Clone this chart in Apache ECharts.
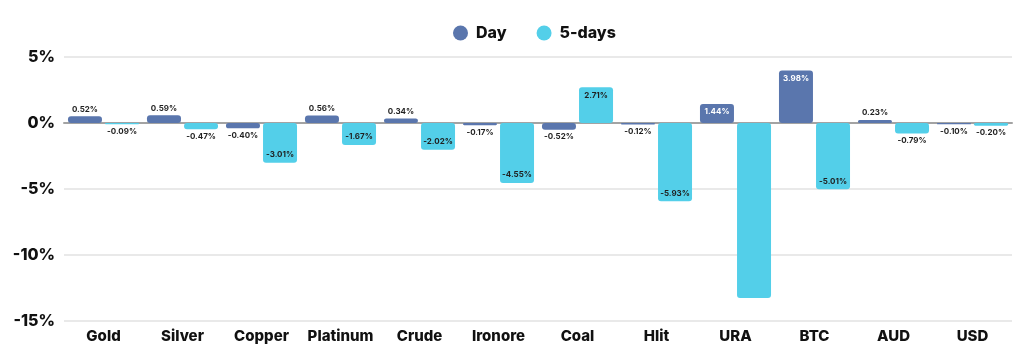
<!DOCTYPE html>
<html>
<head>
<meta charset="utf-8">
<script src="https://cdn.jsdelivr.net/npm/echarts@6/dist/echarts.min.js"></script>
<style>html,body{margin:0;padding:0;background:#fff}#c{width:1024px;height:356px}</style>
</head>
<body>
<div id="c"></div>
<script>
const categories = ['Gold','Silver','Copper','Platinum','Crude','Ironore','Coal','Hlit','URA','BTC','AUD','USD'];
const dayValues = [0.52, 0.59, -0.40, 0.56, 0.34, -0.17, -0.52, -0.12, 1.44, 3.98, 0.23, -0.10];
const fiveDayValues = [-0.09, -0.47, -3.01, -1.67, -2.02, -4.55, 2.71, -5.93, -13.26, -5.01, -0.79, -0.20];
const yTicks = [-15, -10, -5, 0, 5];

const FONT = 'Inter, "Open Sans", sans-serif';
const DAY_COLOR = '#5a76ad';
const FIVE_COLOR = '#53cfe9';

function makeData(values, insideColor) {
  return values.map(v => {
    const big = Math.abs(v) >= 1;
    const hide = Math.abs(v) >= 10;
    let position;
    if (v >= 0) position = big ? 'insideTop' : 'top';
    else position = big ? 'insideBottom' : 'bottom';
    return {
      value: v,
      label: {
        show: !hide,
        position: position,
        distance: big ? 4 : 3,
        color: big ? insideColor : '#1f1f1f'
      }
    };
  });
}

const chart = echarts.init(document.getElementById('c'), null, {renderer: 'canvas'});
chart.setOption({
  animation: false,
  legend: {
    top: 20,
    left: 448,
    itemWidth: 15,
    itemHeight: 15,
    itemGap: 30,
    icon: 'circle',
    textStyle: {fontFamily: FONT, fontSize: 16, fontWeight: 800, color: '#111', padding: [0, 0, 0, 3]},
    data: ['Day', '5-days']
  },
  grid: {left: 64, right: 12, top: 57, bottom: 35, containLabel: false},
  xAxis: {
    type: 'category',
    data: categories,
    axisTick: {show: false},
    axisLine: {show: true, onZero: true, lineStyle: {color: '#a3a3a3', width: 2}},
    axisLabel: {
      fontFamily: FONT, fontSize: 15, fontWeight: 800, color: '#111',
      interval: 0
    },
    position: 'bottom'
  },
  yAxis: {
    type: 'value',
    min: yTicks[0],
    max: yTicks[yTicks.length - 1],
    interval: 5,
    axisLine: {show: false},
    axisTick: {show: false},
    splitLine: {lineStyle: {color: '#e2e2e2', width: 1.5}},
    axisLabel: {
      fontFamily: FONT, fontSize: 16, fontWeight: 800, color: '#111', margin: 9,
      formatter: (v) => v + '%'
    }
  },
  series: [
    {
      name: 'Day',
      type: 'bar',
      barWidth: 34,
      barGap: '9%',
      itemStyle: {color: DAY_COLOR, borderRadius: 3},
      label: {fontFamily: FONT, fontSize: 8, fontWeight: 700, formatter: (p) => p.value.toFixed(2) + '%'},
      data: makeData(dayValues, '#ffffff')
    },
    {
      name: '5-days',
      type: 'bar',
      barWidth: 34,
      barGap: '9%',
      itemStyle: {color: FIVE_COLOR, borderRadius: 3},
      label: {fontFamily: FONT, fontSize: 8, fontWeight: 700, formatter: (p) => p.value.toFixed(2) + '%'},
      data: makeData(fiveDayValues, '#1f1f1f')
    }
  ]
});
</script>
</body>
</html>
